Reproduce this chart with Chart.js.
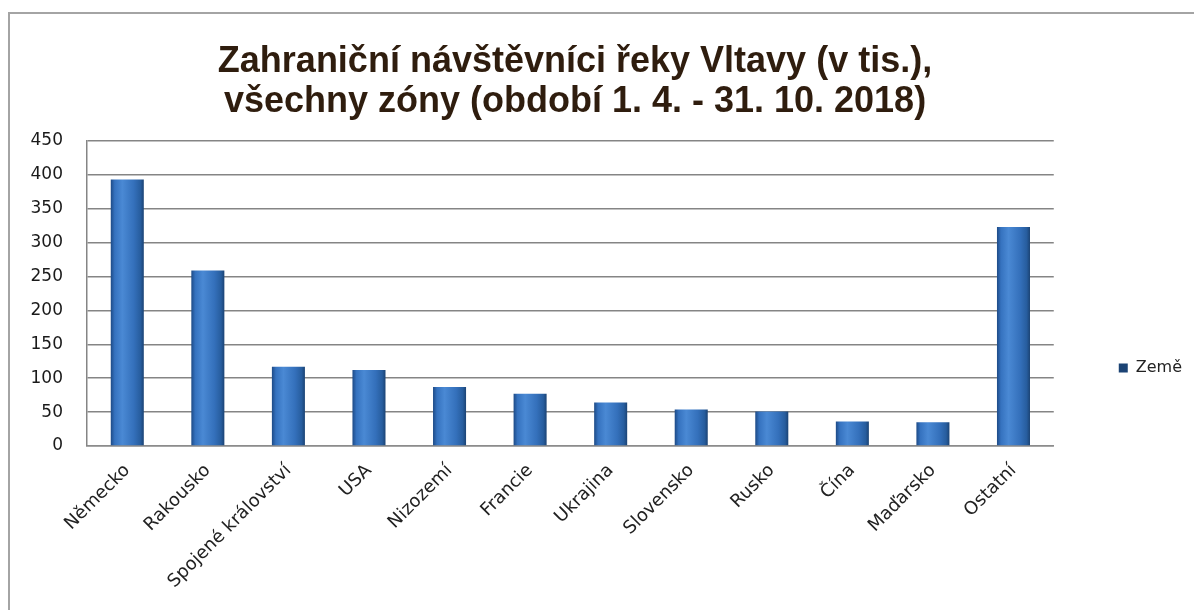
<!DOCTYPE html>
<html>
<head>
<meta charset="utf-8">
<script src="https://cdn.jsdelivr.net/npm/chart.js@4/dist/chart.umd.min.js"></script>
<style>
    html, body { margin: 0; padding: 0; background: #fff; overflow: hidden; }
    body { width: 1194px; height: 610px; position: relative; }
    .frame {
        position: absolute; left: 8px; top: 12px; width: 1200px; height: 620px;
        border-left: 2px solid #a4a4a4; border-top: 2px solid #a4a4a4;
    }
    .wrap { position: absolute; left: -42px; top: 0; width: 1236px; height: 610px; }
</style>
</head>
<body>
<div class="frame"></div>
<div class="wrap"><canvas id="visitorsChart"></canvas></div>
<script>
const countries = ['Německo', 'Rakousko', 'Spojené království', 'USA', 'Nizozemí', 'Francie',
    'Ukrajina', 'Slovensko', 'Rusko', 'Čína', 'Maďarsko', 'Ostatní'];
const visitors = [393, 259, 117, 112, 87, 77, 64, 54, 51, 36, 35, 323];
const seriesName = 'Země';
const titleLines = ['Zahraniční návštěvníci řeky Vltavy (v tis.),',
    'všechny zóny (období 1. 4. - 31. 10. 2018)'];

const BAR_PCT = 0.41;

function barGradient(c) {
    if (c.dataIndex === undefined || !c.chart.chartArea) {
        return '#2e69b0';
    }
    const xs = c.chart.scales.x;
    const cx = xs.getPixelForValue(c.dataIndex);
    const half = (xs.width / countries.length) * BAR_PCT / 2;
    const g = c.chart.ctx.createLinearGradient(cx - half, 0, cx + half, 0);
    g.addColorStop(0, '#1d4a86');
    g.addColorStop(0.12, '#3572bf');
    g.addColorStop(0.35, '#4a89d4');
    g.addColorStop(0.7, '#3470bb');
    g.addColorStop(0.9, '#275d9e');
    g.addColorStop(1, '#1b4374');
    return g;
}

document.addEventListener('DOMContentLoaded', function() {
    const config = {
        type: 'bar',
        data: {
            labels: countries,
            datasets: [{
                label: seriesName,
                data: visitors,
                backgroundColor: barGradient,
                borderWidth: 0,
                barPercentage: BAR_PCT,
                categoryPercentage: 1
            }]
        },
        options: {
            responsive: true,
            maintainAspectRatio: false,
            animation: false,
            layout: {
                padding: { left: 0, right: 2, top: 0, bottom: 0 }
            },
            plugins: {
                tooltip: { enabled: false },
                title: {
                    display: true,
                    text: titleLines,
                    color: '#2f1d0e',
                    font: { family: '"Liberation Sans", Arial, sans-serif', size: 36, weight: 'bold', lineHeight: 1.11 },
                    padding: { top: 42, bottom: 19 }
                },
                legend: {
                    position: 'right',
                    // empty legend title only pushes the entry down to where it sits in the original
                    title: { display: true, text: '', font: { size: 10 }, padding: { top: 114, bottom: 0 } },
                    labels: {
                        boxWidth: 9,
                        boxHeight: 9,
                        padding: 65,
                        color: '#222',
                        font: { family: '"DejaVu Sans", sans-serif', size: 16 }
                    }
                }
            },
            scales: {
                x: {
                    grid: { display: false },
                    border: { display: true, color: '#8c8c8c', width: 1.5 },
                    ticks: {
                        color: '#222',
                        font: { family: '"DejaVu Sans", sans-serif', size: 18 },
                        minRotation: 45,
                        maxRotation: 45,
                        autoSkip: false,
                        padding: 6
                    },
                    afterFit: function(scale) { scale.height = 164; }
                },
                y: {
                    min: 0,
                    max: 450,
                    grid: { color: '#858585', lineWidth: 1.5, drawTicks: false },
                    border: { display: true, color: '#858585', width: 1.5 },
                    ticks: {
                        stepSize: 50,
                        color: '#1a1a1a',
                        font: { family: '"DejaVu Sans", sans-serif', size: 17 },
                        padding: 24
                    },
                    afterFit: function(scale) { scale.width = 129; }
                }
            }
        }
    };
    new Chart(document.getElementById('visitorsChart'), config);
});
</script>
</body>
</html>
